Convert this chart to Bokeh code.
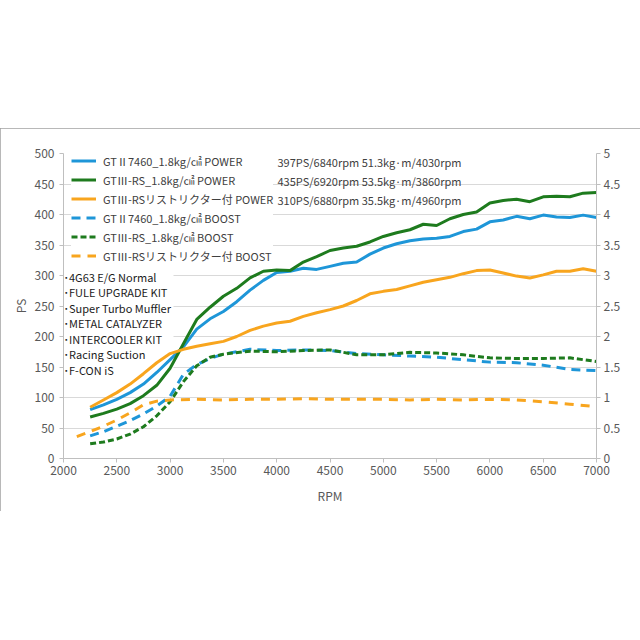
from bokeh.plotting import figure
from bokeh.models import (Range1d, LinearAxis, FixedTicker, NumeralTickFormatter,
                          Legend, LegendItem, Label, BoxAnnotation, Spacer)
from bokeh.layouts import column
from bokeh.embed import file_html
from bokeh.resources import INLINE

FONT = "Noto Sans CJK JP"

# ---------------- data ----------------
rpm_power = [2250, 2375, 2500, 2625, 2750, 2875, 3000, 3125, 3250, 3375,
             3500, 3625, 3750, 3875, 4000, 4125, 4250, 4375, 4500, 4625,
             4750, 4875, 5000, 5125, 5250, 5375, 5500, 5625, 5750, 5875,
             6000, 6125, 6250, 6375, 6500, 6625, 6750, 6875, 7000]

ps_gt2_7460 = [80, 88, 97, 108, 122, 141, 162, 183, 212, 229,
               241, 257, 276, 292, 305, 307, 312, 310, 315, 320,
               322, 335, 345, 352, 357, 360, 361, 364, 372, 376,
               388, 391, 397, 393, 399, 396, 395, 399, 395]

ps_gt3_rs = [68, 74, 81, 90, 103, 120, 148, 188, 228, 248,
             266, 279, 296, 307, 309, 308, 322, 331, 341, 345,
             348, 355, 364, 370, 375, 384, 382, 393, 400, 404,
             419, 423, 425, 421, 429, 430, 429, 435, 436]

ps_gt3_rs_restr = [84, 96, 108, 122, 139, 157, 172, 179, 184, 188,
                   192, 200, 210, 217, 222, 225, 233, 239, 244, 250,
                   259, 270, 274, 277, 283, 289, 293, 297, 303, 308,
                   309, 304, 299, 296, 301, 307, 307, 311, 307]

rpm_boost = [2250, 2375, 2500, 2625, 2750, 2875, 3000, 3125, 3250, 3375,
             3500, 3750, 4000, 4250, 4500, 4750, 5000, 5250, 5500, 5750,
             6000, 6250, 6500, 6750, 7000]

boost_gt2_7460 = [0.37, 0.44, 0.53, 0.62, 0.73, 0.86, 1.02, 1.38, 1.54, 1.64,
                  1.71, 1.79, 1.77, 1.78, 1.77, 1.72, 1.70, 1.68, 1.66, 1.62,
                  1.58, 1.57, 1.53, 1.46, 1.44]

boost_gt3_rs = [0.24, 0.27, 0.32, 0.40, 0.52, 0.70, 0.93, 1.26, 1.52, 1.66,
                1.71, 1.76, 1.75, 1.77, 1.78, 1.70, 1.70, 1.74, 1.73, 1.70,
                1.65, 1.64, 1.64, 1.65, 1.59]

rpm_boost_restr = [2125, 2250, 2375, 2500, 2625, 2750, 2875, 3000, 3250, 3500,
                   3750, 4000, 4250, 4500, 4750, 5000, 5250, 5500, 5750, 6000,
                   6250, 6500, 6750, 7000]

boost_gt3_rs_restr = [0.36, 0.44, 0.53, 0.63, 0.75, 0.88, 0.94, 0.96, 0.97, 0.96,
                      0.97, 0.97, 0.98, 0.97, 0.97, 0.97, 0.96, 0.97, 0.96, 0.97,
                      0.96, 0.93, 0.89, 0.85]

series_labels = [
    "GTⅡ7460_1.8kg/㎠ POWER",
    "GTⅢ-RS_1.8kg/㎠ POWER",
    "GTⅢ-RSリストリクター付 POWER",
    "GTⅡ7460_1.8kg/㎠ BOOST",
    "GTⅢ-RS_1.8kg/㎠ BOOST",
    "GTⅢ-RSリストリクター付 BOOST",
]

stats_lines = [
    "397PS/6840rpm 51.3kg·m/4030rpm",
    "435PS/6920rpm 53.5kg·m/3860rpm",
    "310PS/6880rpm 35.5kg·m/4960rpm",
]

spec_lines = [
    "･4G63 E/G Normal",
    "･FULE UPGRADE KIT",
    "･Super Turbo Muffler",
    "･METAL CATALYZER",
    "･INTERCOOLER KIT",
    "･Racing Suction",
    "･F-CON iS",
]

x_ticks = [2000, 2500, 3000, 3500, 4000, 4500, 5000, 5500, 6000, 6500, 7000]
ps_ticks = [0, 50, 100, 150, 200, 250, 300, 350, 400, 450, 500]
boost_ticks = [0, 0.5, 1, 1.5, 2, 2.5, 3, 3.5, 4, 4.5, 5]

BLUE = "#1E96D8"
GREEN = "#1E7B1E"
ORANGE = "#F8A51E"

# ---------------- figure ----------------
p = figure(width=640, height=383, x_range=Range1d(2000, 7000), y_range=Range1d(0, 500),
           output_backend="svg", toolbar_location=None,
           min_border_left=63, min_border_right=44, min_border_top=25, min_border_bottom=53)
p.extra_y_ranges = {"boost": Range1d(0, 5)}
p.outline_line_color = None
p.background_fill_color = "white"
p.border_fill_color = "white"
p.styles = {"outline": "1px solid #a0a0a0", "outline-offset": "-1px"}

p.xgrid.grid_line_color = None
p.ygrid.grid_line_color = "#D9D9D9"
p.ygrid.grid_line_width = 1

right_axis = LinearAxis(y_range_name="boost")
p.add_layout(right_axis, "right")

p.xaxis.ticker = FixedTicker(ticks=x_ticks)
p.yaxis[0].ticker = FixedTicker(ticks=ps_ticks)
right_axis.ticker = FixedTicker(ticks=boost_ticks)
right_axis.formatter = NumeralTickFormatter(format="0.[0]")

p.xaxis.axis_label = "RPM"
p.yaxis[0].axis_label = "PS"

for ax in [p.xaxis[0], p.yaxis[0], right_axis]:
    ax.axis_line_color = "#BFBFBF"
    ax.major_tick_line_color = "#BFBFBF"
    ax.major_tick_out = 4
    ax.major_tick_in = 0
    ax.minor_tick_line_color = None
    ax.major_label_text_font = FONT
    ax.major_label_text_font_size = "12px"
    ax.major_label_text_color = "#595959"
    ax.axis_label_text_font = FONT
    ax.axis_label_text_font_size = "12px"
    ax.axis_label_text_font_style = "normal"
    ax.axis_label_text_color = "#595959"

p.xaxis.major_label_standoff = 3
p.xaxis.axis_label_standoff = 9
p.yaxis[0].major_label_standoff = 5
p.yaxis[0].axis_label_standoff = 3
right_axis.major_label_standoff = 3

# background box behind spec list
p.add_layout(BoxAnnotation(left=0, right=110, bottom=80, top=190,
                           left_units="screen", right_units="screen",
                           bottom_units="screen", top_units="screen",
                           fill_color="white", fill_alpha=1, line_color=None,
                           level="underlay"))

# ---------------- lines ----------------
r1 = p.line(rpm_power, ps_gt2_7460, line_color=BLUE, line_width=3)
r2 = p.line(rpm_power, ps_gt3_rs, line_color=GREEN, line_width=3)
r3 = p.line(rpm_power, ps_gt3_rs_restr, line_color=ORANGE, line_width=3)
r4 = p.line(rpm_boost, boost_gt2_7460, line_color=BLUE, line_width=3,
            line_dash="9 6", y_range_name="boost")
r5 = p.line(rpm_boost, boost_gt3_rs, line_color=GREEN, line_width=3,
            line_dash="6 3", y_range_name="boost")
r6 = p.line(rpm_boost_restr, boost_gt3_rs_restr, line_color=ORANGE, line_width=3,
            line_dash="9 7", y_range_name="boost")

legend = Legend(items=[LegendItem(label=lab, renderers=[r])
                       for lab, r in zip(series_labels, [r1, r2, r3, r4, r5, r6])],
                location=(8, 193), padding=0, spacing=0, margin=0,
                glyph_width=25, glyph_height=19, label_height=19, label_standoff=7,
                label_text_font=FONT, label_text_font_size="11px",
                label_text_color="#404040", border_line_color=None,
                background_fill_color="white", background_fill_alpha=1)
p.add_layout(legend)

for i, t in enumerate(stats_lines):
    p.add_layout(Label(x=214, y=297 - i * 19.3, x_units="screen", y_units="screen",
                       text=t, text_font=FONT, text_font_size="11px",
                       text_color="#404040", text_baseline="middle"))

for i, t in enumerate(spec_lines):
    p.add_layout(Label(x=0, y=182 - i * 15.5, x_units="screen", y_units="screen",
                       text=t, text_font=FONT, text_font_size="11px",
                       text_color="#1a1a1a", text_baseline="middle"))

layout = column(Spacer(width=640, height=128), p)
open("out.html", "w").write(file_html(layout, INLINE))
